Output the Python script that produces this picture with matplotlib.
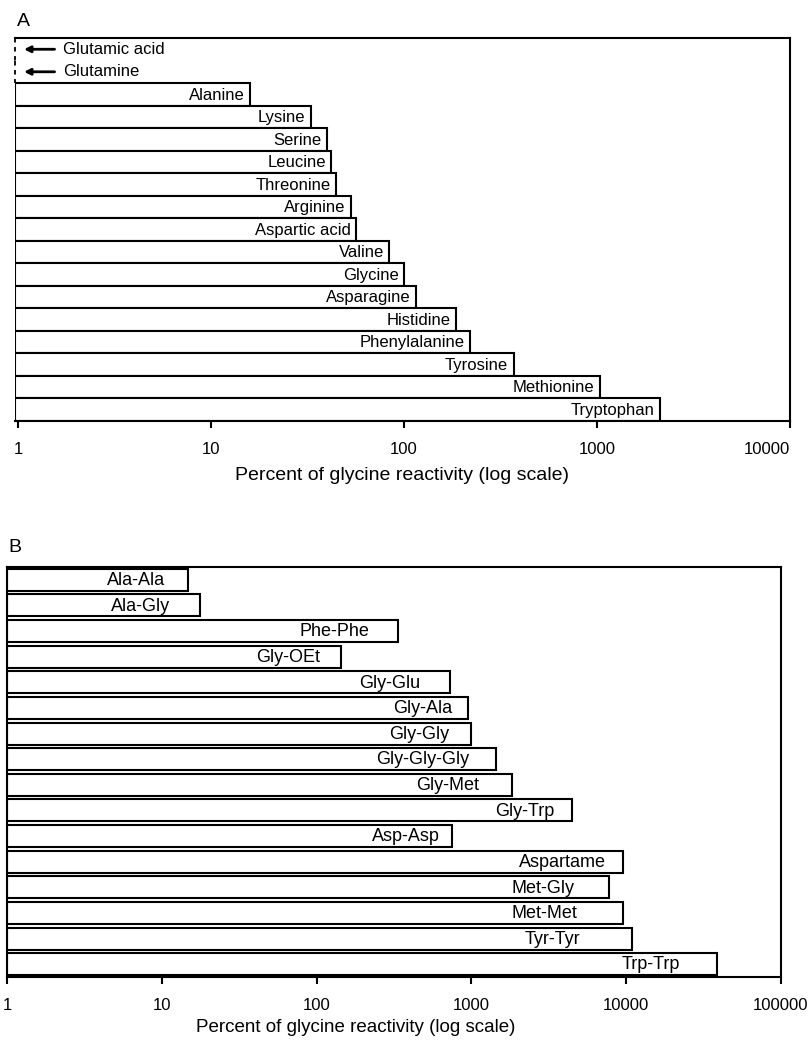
import numpy as np
import matplotlib.pyplot as plt
from matplotlib.ticker import NullLocator

plt.rcParams['font.family'] = ['Liberation Sans', 'DejaVu Sans']

# --- data ---
# A: free amino acids (values below 1 are off the scale)
acids = ["Glutamic acid", "Glutamine", "Alanine", "Lysine", "Serine", "Leucine",
         "Threonine", "Arginine", "Aspartic acid", "Valine", "Glycine",
         "Asparagine", "Histidine", "Phenylalanine", "Tyrosine", "Methionine",
         "Tryptophan"]
acid_pct = [0.5, 0.5, 16, 33, 40, 42, 44.5, 53, 56.5, 84, 100, 115, 186, 219,
            370, 1040, 2130]

# B: peptides and derivatives
peptides = ["Ala-Ala", "Ala-Gly", "Phe-Phe", "Gly-OEt", "Gly-Glu", "Gly-Ala",
            "Gly-Gly", "Gly-Gly-Gly", "Gly-Met", "Gly-Trp", "Asp-Asp",
            "Aspartame", "Met-Gly", "Met-Met", "Tyr-Tyr", "Trp-Trp"]
peptide_pct = [14.7, 17.6, 338, 143, 732, 956, 1000, 1450, 1840, 4470, 745,
               9550, 7770, 9550, 10900, 38600]

# label gap from bar end (points) - the original labels were set by hand
peptide_pad = [16.5, 21.5, 21, 15, 22, 11.5, 16, 19.5, 24, 13, 8.5, 12, 25,
               33, 37, 27]

xlabel = "Percent of glycine reactivity (log scale)"

fig = plt.figure(figsize=(8.12, 10.41), dpi=100)
W, H = 812, 1041
axA = fig.add_axes([15 / W, 1 - 421 / H, 775 / W, 383 / H])
axB = fig.add_axes([7 / W, 1 - 977 / H, 774 / W, 410 / H])

LW = 1.5

# --- panel A ---
x0A = 0.965
vals = np.array(acid_pct, dtype=float)
yA = np.arange(len(acids))
on = vals >= 1
axA.barh(yA[on], vals[on] - x0A, left=x0A, height=1.0, color='white',
         edgecolor='black', linewidth=LW, zorder=2)
for name, v, y in zip(acids, vals, yA):
    if v >= 1:
        axA.annotate(name, xy=(v, y), xytext=(-4, -0.5), textcoords='offset points',
                     ha='right', va='center', fontsize=12, zorder=3)
    else:
        # off-scale: dashed stub on the axis and an arrow pointing left
        axA.vlines(x0A, y - 0.5, y + 0.5, colors='black', linewidth=1.3,
                   linestyles=(0, (2.5, 2.5)), clip_on=False, zorder=3)
        axA.annotate(name, xy=(x0A, y), xytext=(34.5, 0), textcoords='offset points',
                     ha='left', va='center', fontsize=12,
                     arrowprops=dict(arrowstyle='-|>', color='black', lw=2,
                                     mutation_scale=9, shrinkA=4, shrinkB=6.5))

axA.set_xscale('log')
axA.set_xlim(x0A, 1e4)
axA.set_ylim(len(acids) - 0.5, -0.5)
axA.set_xticks([1, 10, 100, 1000, 10000])
axA.set_xticklabels(['1', '10', '100', '1000', '10000'])
axA.get_xticklabels()[-1].set_ha('right')
axA.xaxis.set_minor_locator(NullLocator())
axA.set_yticks([])
axA.spines['left'].set_visible(False)
for s in ['top', 'right', 'bottom']:
    axA.spines[s].set_linewidth(LW)
axA.tick_params(axis='x', direction='out', length=5, width=LW, pad=10, labelsize=12)
axA.set_xlabel(xlabel, fontsize=14, labelpad=7)

# --- panel B ---
vals = np.array(peptide_pct, dtype=float)
yB = np.arange(len(peptides))
axB.barh(yB, vals - 1, left=1, height=0.86, color='white', edgecolor='black',
         linewidth=LW, zorder=2)
for name, v, y, pad in zip(peptides, vals, yB, peptide_pad):
    axB.annotate(name, xy=(v, y), xytext=(-pad, -0.5), textcoords='offset points',
                 ha='right', va='center', fontsize=13, zorder=3)

axB.set_xscale('log')
axB.set_xlim(1, 1e5)
axB.set_ylim(len(peptides) - 0.5, -0.5)
axB.set_xticks([1, 10, 100, 1000, 10000, 100000])
axB.set_xticklabels(['1', '10', '100', '1000', '10000', '100000'])
axB.xaxis.set_minor_locator(NullLocator())
axB.set_yticks([])
for s in axB.spines.values():
    s.set_linewidth(LW)
axB.tick_params(axis='x', direction='out', length=5, width=LW, pad=10, labelsize=12)
axB.set_xlabel(xlabel, fontsize=13.5)
axB.xaxis.set_label_coords(0.45, -0.103)

fig.text(17 / W, 1 - 21 / H, 'A', fontsize=14, va='center', ha='left')
fig.text(8 / W, 1 - 548 / H, 'B', fontsize=14, va='center', ha='left')

fig.savefig('out.png', dpi=100, facecolor='white')
